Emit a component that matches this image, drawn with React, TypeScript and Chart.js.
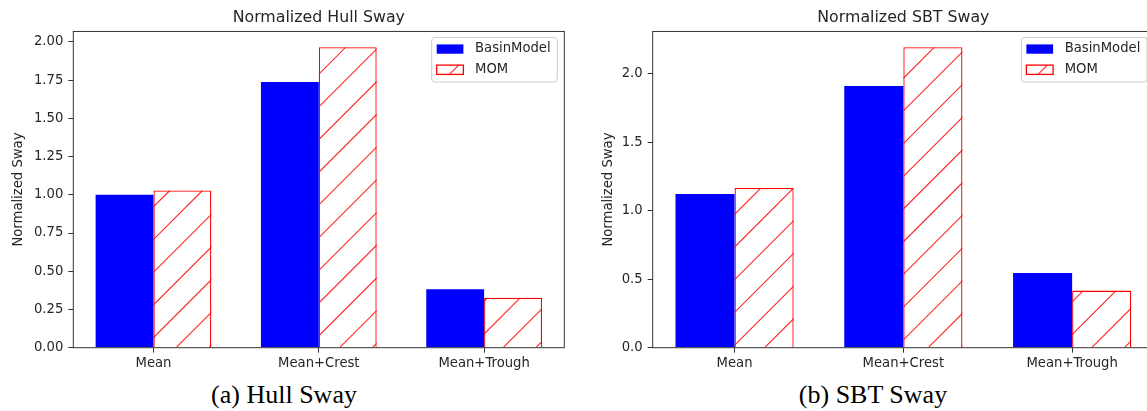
import { useEffect, useRef } from 'react';
import { Chart, registerables } from 'chart.js';

Chart.register(...registerables);

const categories = ['Mean', 'Mean+Crest', 'Mean+Trough'];
const seriesNames = ['BasinModel', 'MOM'];

const hullBasin = [1.0, 1.738, 0.382];
const hullMom = [1.028, 1.965, 0.327];
const hullTicks = [0, 0.25, 0.5, 0.75, 1.0, 1.25, 1.5, 1.75, 2.0];

const sbtBasin = [1.122, 1.912, 0.546];
const sbtMom = [1.166, 2.195, 0.417];
const sbtTicks = [0, 0.5, 1.0, 1.5, 2.0];

const FONT = "'DejaVu Sans', sans-serif";
const INK = '#262626';
const HATCH_STEP = 32.7;
const HATCH_PHASE = 0.6;

// diagonal "/" hatch, anchored to the page so it lines up like matplotlib's
function hatch(ctx: CanvasRenderingContext2D, x0: number, y0: number, x1: number, y1: number, pageX: number) {
  ctx.save();
  ctx.beginPath();
  ctx.rect(x0, y0, x1 - x0, y1 - y0);
  ctx.clip();
  ctx.strokeStyle = 'rgba(255,0,0,0.85)';
  ctx.lineWidth = 1.1;
  const cMin = x0 + pageX + y0;
  const cMax = x1 + pageX + y1;
  let c = Math.ceil((cMin - HATCH_PHASE) / HATCH_STEP) * HATCH_STEP + HATCH_PHASE;
  ctx.beginPath();
  for (; c <= cMax; c += HATCH_STEP) {
    const k = c - pageX;
    ctx.moveTo(k - y1, y1);
    ctx.lineTo(k - y0, y0);
  }
  ctx.stroke();
  ctx.restore();
}

interface PanelProps {
  title: string;
  basin: number[];
  mom: number[];
  ticks: number[];
  decimals: number;
  yMax: number;
  pageX: number;
  axisWidth: number;
  rightPad: number;
}

const W = 580;
const H = 372;

function Panel({ title, basin, mom, ticks, decimals, yMax, pageX, axisWidth, rightPad }: PanelProps) {
  const canvasRef = useRef<HTMLCanvasElement>(null);

  useEffect(() => {
    if (!canvasRef.current) return;

    const decor = {
      id: 'decor',
      afterDatasetsDraw(chart: any) {
        const ctx = chart.ctx;
        chart.getDatasetMeta(1).data.forEach((el: any) => {
          const { x, y, base, width } = el.getProps(['x', 'y', 'base', 'width'], true);
          hatch(ctx, x - width / 2, y, x + width / 2, base, pageX);
        });
      },
      afterDraw(chart: any) {
        const { ctx, chartArea: a } = chart;
        ctx.save();
        ctx.strokeStyle = '#333';
        ctx.lineWidth = 1;
        ctx.strokeRect(a.left, a.top, a.right - a.left, a.bottom - a.top);

        // legend box, upper right
        const bw = 125.6, bh = 44.6;
        const bx = a.right - 7 - bw, by = a.top + 6;
        ctx.beginPath();
        ctx.roundRect(bx, by, bw, bh, 3);
        ctx.fillStyle = 'rgba(255,255,255,0.8)';
        ctx.fill();
        ctx.strokeStyle = '#cccccc';
        ctx.stroke();

        const rows = [by + 11.6, by + 32.3];
        const sx = bx + 5, sw = 26.7, sh = 9.3;
        ctx.fillStyle = '#0000ff';
        ctx.fillRect(sx, rows[0] - sh / 2, sw, sh);
        ctx.fillStyle = '#ffffff';
        ctx.fillRect(sx, rows[1] - sh / 2, sw, sh);
        hatch(ctx, sx, rows[1] - sh / 2, sx + sw, rows[1] + sh / 2, pageX);
        ctx.strokeStyle = '#ff0000';
        ctx.lineWidth = 1.3;
        ctx.strokeRect(sx, rows[1] - sh / 2, sw, sh);

        ctx.font = `13.2px ${FONT}`;
        ctx.fillStyle = INK;
        ctx.textBaseline = 'middle';
        ctx.textAlign = 'left';
        seriesNames.forEach((n, i) => ctx.fillText(n, bx + 43.3, rows[i]));
        ctx.restore();
      },
    };

    const chart = new Chart(canvasRef.current, {
      type: 'bar',
      data: {
        datasets: [
          {
            label: seriesNames[0],
            data: basin.map((v, i) => ({ x: i, y: v })),
            backgroundColor: '#0000ff',
            borderWidth: 0,
          },
          {
            label: seriesNames[1],
            data: mom.map((v, i) => ({ x: i, y: v })),
            backgroundColor: '#ffffff',
            borderColor: '#ff0000',
            borderWidth: 1.3,
            borderSkipped: 'start',
          },
        ],
      },
      options: {
        responsive: false,
        animation: false,
        layout: { padding: { left: 0, right: rightPad, top: 0, bottom: 0 } },
        datasets: { bar: { categoryPercentage: 0.7, barPercentage: 1 } },
        plugins: {
          legend: { display: false },
          tooltip: { enabled: false },
          title: {
            display: true,
            text: title,
            fullSize: false,
            color: INK,
            font: { family: FONT, size: 15.8, weight: 'normal' },
            padding: { top: 8.4, bottom: 4.1 },
          },
        },
        scales: {
          x: {
            type: 'linear',
            min: -0.485,
            max: 2.485,
            offset: false,
            afterBuildTicks: (s: any) => { s.ticks = categories.map((_, i) => ({ value: i })); },
            afterFit: (s: any) => { s.height = H - 347.7; },
            grid: { offset: false, drawOnChartArea: false, drawTicks: true, tickLength: 5, color: '#333' },
            border: { display: false },
            ticks: {
              color: INK,
              font: { family: FONT, size: 13.2 },
              padding: 3,
              maxRotation: 0,
              autoSkip: false,
              callback: (v: any) => categories[v as number] ?? '',
            },
          },
          y: {
            type: 'linear',
            min: 0,
            max: yMax,
            afterBuildTicks: (s: any) => { s.ticks = ticks.map((v) => ({ value: v })); },
            afterFit: (s: any) => { s.width = axisWidth; },
            grid: { drawOnChartArea: false, drawTicks: true, tickLength: 5, color: '#333' },
            border: { display: false },
            title: {
              display: true,
              text: 'Normalized Sway',
              color: INK,
              font: { family: FONT, size: 13.2 },
              padding: { top: 10.4, bottom: 0 },
            },
            ticks: {
              color: INK,
              font: { family: FONT, size: 13.2 },
              padding: 5,
              callback: (v: any) => Number(v).toFixed(decimals),
            },
          },
        },
      },
      plugins: [decor],
    } as any);

    return () => chart.destroy();
  }, [title, basin, mom, ticks, decimals, yMax, pageX, axisWidth, rightPad]);

  return (
    <canvas
      ref={canvasRef}
      width={W}
      height={H}
      style={{ position: 'absolute', left: pageX, top: 0, width: W, height: H }}
    />
  );
}

const captionStyle = {
  position: 'absolute' as const,
  top: 382,
  width: 400,
  textAlign: 'center' as const,
  fontFamily: "'Liberation Serif', 'Times New Roman', serif",
  fontSize: 26,
  lineHeight: '26px',
  color: '#000',
};

export default function App() {
  return (
    <div
      style={{
        position: 'fixed',
        left: 0,
        top: 0,
        width: 1147,
        height: 411,
        overflow: 'hidden',
        background: '#fff',
      }}
    >
      <Panel
        title="Normalized Hull Sway"
        basin={hullBasin}
        mom={hullMom}
        ticks={hullTicks}
        decimals={2}
        yMax={2.068}
        pageX={0}
        axisWidth={73.3}
        rightPad={15.7}
      />
      <Panel
        title="Normalized SBT Sway"
        basin={sbtBasin}
        mom={sbtMom}
        ticks={sbtTicks}
        decimals={1}
        yMax={2.31}
        pageX={590}
        axisWidth={62.7}
        rightPad={16}
      />
      <div style={{ ...captionStyle, left: 284 - 200 }}>(a) Hull Sway</div>
      <div style={{ ...captionStyle, left: 873 - 200 }}>(b) SBT Sway</div>
    </div>
  );
}
